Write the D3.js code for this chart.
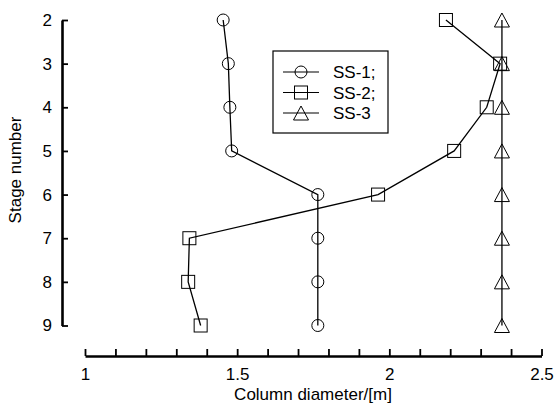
<!DOCTYPE html>
<html>
<head>
<meta charset="utf-8">
<script src="https://cdn.jsdelivr.net/npm/d3@7"></script>
<style>
  body { margin: 0; background: #fff; }
  text { font-family: "Liberation Sans", Arial, Helvetica, sans-serif; fill: #000; }
</style>
</head>
<body>
<div id="chart"></div>
<script>
// stage numbers and column diameters
var stages = [2, 3, 4, 5, 6, 7, 8, 9];
var ss1 = [1.454, 1.471, 1.476, 1.482, 1.765, 1.765, 1.765, 1.765];
var ss2 = [2.186, 2.364, 2.320, 2.213, 1.963, 1.343, 1.339, 1.380];
var ss3 = [2.370, 2.370, 2.370, 2.370, 2.370, 2.370, 2.370, 2.370];
var seriesNames = ["SS-1;", "SS-2;", "SS-3"];
var xTicks = [1, 1.5, 2, 2.5];

var width = 557, height = 408;

var svg = d3.select("#chart")
    .append("svg")
    .attr("width", width)
    .attr("height", height);

svg.append("rect").attr("width", width).attr("height", height).attr("fill", "#fff");

var x = d3.scaleLinear().domain([1, 2.5]).range([85, 541.5]);
var y = d3.scaleLinear().domain([2, 9]).range([20, 325.5]);

// bottom axis: minor ticks every 0.1, labels on the halves
var minor = d3.range(10, 26).map(function(d){ return d / 10; });
var xAxis = d3.axisBottom(x)
    .tickValues(minor)
    .tickSizeInner(-7)
    .tickSizeOuter(0)
    .tickPadding(12)
    .tickFormat(function(d){
        return xTicks.some(function(t){ return Math.abs(t - d) < 1e-6; }) ? d3.format("")(+d.toFixed(1)) : "";
    });

var gx = svg.append("g")
    .attr("transform", "translate(0,356)")
    .call(xAxis);

var yAxis = d3.axisLeft(y)
    .tickValues(stages)
    .tickSizeInner(-6)
    .tickSizeOuter(0)
    .tickPadding(10)
    .tickFormat(d3.format("d"));

var gy = svg.append("g")
    .attr("transform", "translate(62,0)")
    .call(yAxis);

[gx, gy].forEach(function(g){
    g.select(".domain").attr("stroke", "#000").attr("stroke-width", 2.6);
    g.selectAll(".tick line").attr("stroke", "#000").attr("stroke-width", 1.8);
    g.selectAll(".tick text")
        .style("font-size", "17px")
        .style("font-family", "'Liberation Sans', Arial, sans-serif")
        .attr("fill", "#000");
});

// axis titles
svg.append("text")
    .attr("x", 313)
    .attr("y", 400)
    .attr("text-anchor", "middle")
    .style("font-size", "17px")
    .text("Column diameter/[m]");

svg.append("text")
    .attr("transform", "translate(21,170) rotate(-90)")
    .attr("text-anchor", "middle")
    .style("font-size", "17px")
    .text("Stage number");

// markers
function drawMarker(g, type, cx, cy){
    if(type === 0){
        g.append("circle").attr("cx", cx).attr("cy", cy).attr("r", 6)
            .attr("fill", "none").attr("stroke", "#000").attr("stroke-width", 1);
    }
    else if(type === 1){
        g.append("rect").attr("x", cx - 6.5).attr("y", cy - 6.5)
            .attr("width", 13).attr("height", 13)
            .attr("fill", "none").attr("stroke", "#000").attr("stroke-width", 1);
    }
    else{
        g.append("path")
            .attr("d", "M" + cx + "," + (cy - 7) + "L" + (cx + 7.5) + "," + (cy + 7) + "L" + (cx - 7.5) + "," + (cy + 7) + "Z")
            .attr("fill", "none").attr("stroke", "#000").attr("stroke-width", 1);
    }
}

var allSeries = [ss1, ss2, ss3];
var line = d3.line()
    .x(function(d){ return x(d[0]); })
    .y(function(d){ return y(d[1]); });

allSeries.forEach(function(vals, k){
    var pts = vals.map(function(v, i){ return [v, stages[i]]; });
    var g = svg.append("g");
    g.append("path")
        .attr("d", line(pts))
        .attr("fill", "none")
        .attr("stroke", "#000")
        .attr("stroke-width", 1.3);
    pts.forEach(function(p){
        drawMarker(g, k, x(p[0]), y(p[1]));
    });
});

// legend
var legend = svg.append("g");
legend.append("rect")
    .attr("x", 273).attr("y", 51)
    .attr("width", 115).attr("height", 82)
    .attr("fill", "#fff")
    .attr("stroke", "#000")
    .attr("stroke-width", 1.2);

seriesNames.forEach(function(name, k){
    var ry = 72 + k * 20.5;
    legend.append("line")
        .attr("x1", 283).attr("x2", 319)
        .attr("y1", ry).attr("y2", ry)
        .attr("stroke", "#000").attr("stroke-width", 1.2);
    drawMarker(legend, k, 301, ry);
    legend.append("text")
        .attr("x", 333)
        .attr("y", ry + 6)
        .style("font-size", "17px")
        .text(name);
});
</script>
</body>
</html>
